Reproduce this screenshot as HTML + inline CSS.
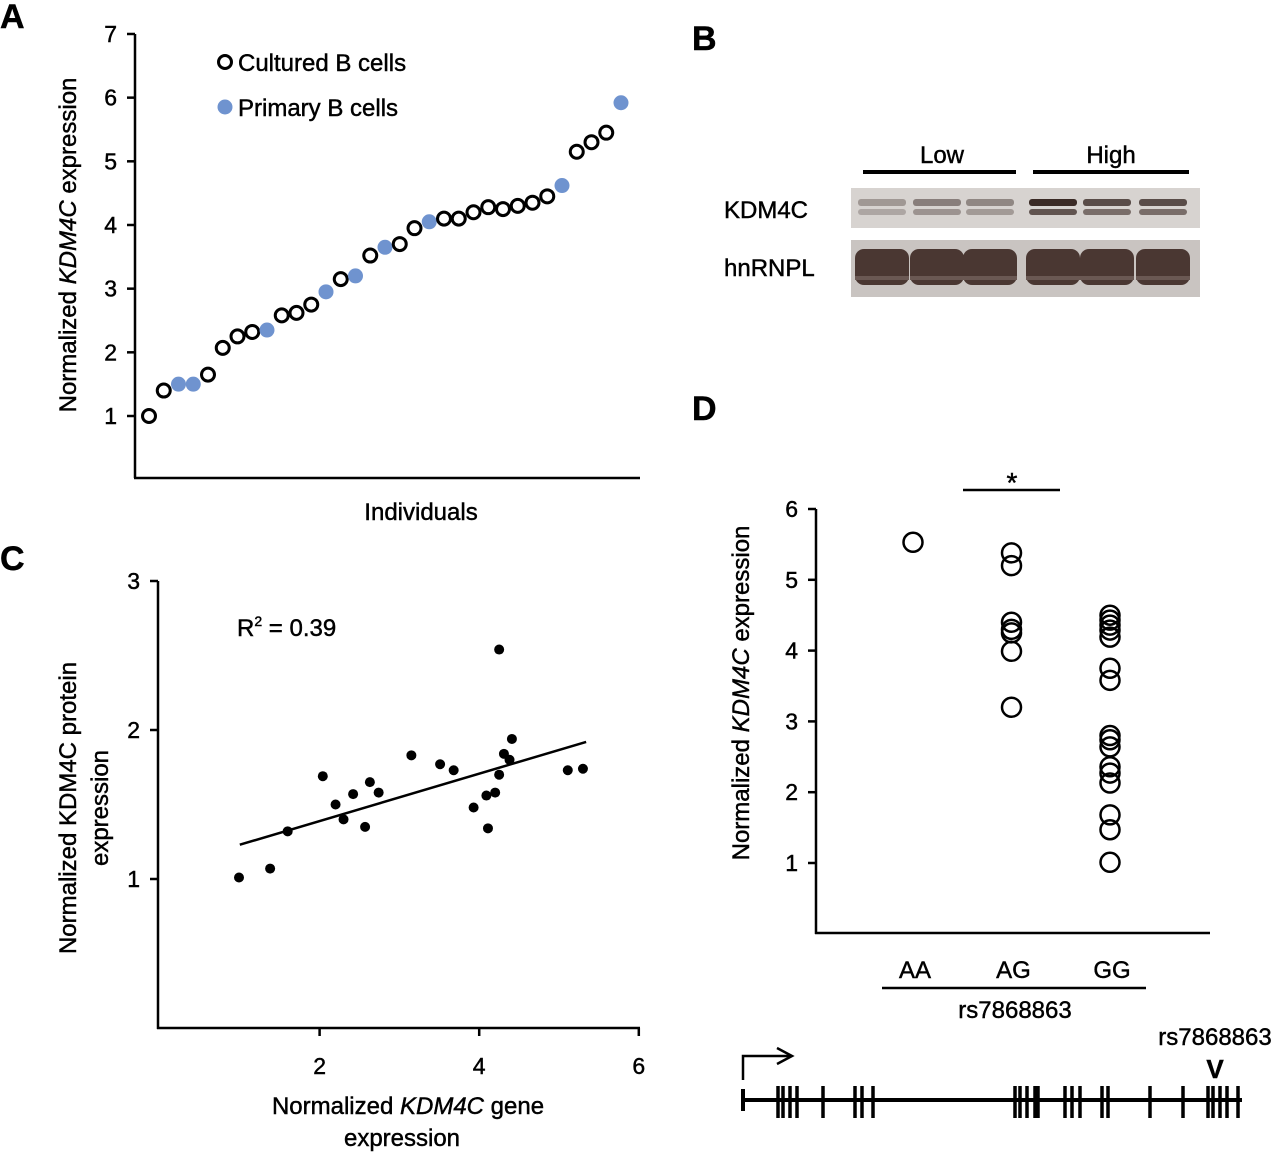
<!DOCTYPE html>
<html><head><meta charset="utf-8"><style>
body{margin:0;background:#fff;}
svg{display:block;font-family:"Liberation Sans",Arial,sans-serif;}
svg text{stroke:#000;stroke-width:0.45px;}
</style></head><body>
<svg id="fig" width="1280" height="1153" viewBox="0 0 1280 1153">
<g id="pa"></g>
<g id="pb"></g>
<g id="pc"></g>
<g id="pd"></g>
<g id="pe"></g>
</svg>
<script>
// Panel A data
const aValues=[1.0,1.4,1.5,1.5,1.65,2.07,2.25,2.32,2.35,2.58,2.62,2.75,2.95,3.15,3.2,3.52,3.65,3.7,3.95,4.05,4.1,4.1,4.2,4.28,4.25,4.3,4.35,4.45,4.62,5.15,5.3,5.45,5.92];
const aPrimary=[0,0,1,1,0,0,0,0,1,0,0,0,1,0,1,0,1,0,0,1,0,0,0,0,0,0,0,0,1,0,0,0,1];
const aTicks=[1,2,3,4,5,6,7];
// Panel C data
const cX=[0.99,1.38,1.6,2.04,2.2,2.3,2.42,2.57,2.63,2.74,3.15,3.51,3.68,3.93,4.09,4.11,4.2,4.25,4.25,4.31,4.38,4.41,5.11,5.3];
const cY=[1.01,1.07,1.32,1.69,1.5,1.4,1.57,1.35,1.65,1.58,1.83,1.77,1.73,1.48,1.56,1.34,1.58,2.54,1.70,1.84,1.8,1.94,1.73,1.74];
const cFitX=[1.0,5.34];
const cFitY=[1.23,1.92];
const cXTicks=[2,4,6];
const cYTicks=[1,2,3];
// Panel D data
const dCats=["AA","AG","GG"];
const dAA=[5.53];
const dAG=[5.38,5.2,4.4,4.3,4.25,3.99,3.2];
const dGG=[4.5,4.43,4.36,4.29,4.19,3.75,3.58,2.8,2.74,2.64,2.36,2.27,2.13,1.68,1.47,1.01];
const dTicks=[1,2,3,4,5,6];
// Blot
const blotLow=[0.35,0.5,0.45];
const blotHigh=[1.0,0.8,0.8];

const NS="http://www.w3.org/2000/svg";
function mk(parent,tag,attrs,name,text){
  const el=document.createElementNS(NS,tag);
  for(const k in attrs) el.setAttribute(k,attrs[k]);
  
  
  if(text!==undefined) el.textContent=text;
  parent.appendChild(el);return el;
}
const A=document.getElementById('pa'),B=document.getElementById('pb'),C=document.getElementById('pc'),D=document.getElementById('pd'),E=document.getElementById('pe');

// ---------- Panel A ----------
const ay=v=>416-(v-1)*63.67, ax=i=>149+i*14.75;
mk(A,'text',{x:0,y:28,'font-size':34,'font-weight':'bold'},'panel-letter-a','A');
mk(A,'line',{x1:135,y1:34,x2:135,y2:478,stroke:'#000','stroke-width':2.5},'y-axis');
mk(A,'line',{x1:134,y1:478,x2:640,y2:478,stroke:'#000','stroke-width':2.5},'x-axis');
aTicks.forEach(t=>{
  mk(A,'line',{x1:127,y1:ay(t),x2:135,y2:ay(t),stroke:'#000','stroke-width':2.5},'y-tick');
  mk(A,'text',{x:117,y:ay(t)+8,'font-size':23,'text-anchor':'end'},'y-tick-label',t);
});
const at=mk(A,'text',{transform:'translate(76,245) rotate(-90)','font-size':24,'text-anchor':'middle'},'y-axis-title');
at.innerHTML='Normalized <tspan font-style="italic">KDM4C</tspan> expression';
mk(A,'text',{x:421,y:520,'font-size':24,'text-anchor':'middle'},'x-axis-title','Individuals');
aValues.forEach((v,i)=>{
  if(aPrimary[i]) mk(A,'circle',{cx:ax(i),cy:ay(v),r:7.5,fill:'#6f93cf'},'primary-point');
  else mk(A,'circle',{cx:ax(i),cy:ay(v),r:6.5,fill:'#fff',stroke:'#000','stroke-width':3},'cultured-point');
});
mk(A,'circle',{cx:225,cy:62,r:6.5,fill:'#fff',stroke:'#000','stroke-width':3},'legend-marker-cultured');
mk(A,'text',{x:238,y:71,'font-size':24},'legend-label-cultured','Cultured B cells');
mk(A,'circle',{cx:225,cy:107,r:7.5,fill:'#6f93cf'},'legend-marker-primary');
mk(A,'text',{x:238,y:116,'font-size':24},'legend-label-primary','Primary B cells');

// ---------- Panel B ----------
mk(B,'text',{x:692,y:50,'font-size':34,'font-weight':'bold'},'panel-letter-b','B');
mk(B,'text',{x:942,y:163,'font-size':24,'text-anchor':'middle'},'low-label','Low');
mk(B,'text',{x:1111,y:163,'font-size':24,'text-anchor':'middle'},'high-label','High');
mk(B,'rect',{x:863,y:170,width:153,height:4},'low-bar');
mk(B,'rect',{x:1033,y:170,width:156,height:4},'high-bar');
mk(B,'text',{x:724,y:218,'font-size':24},'kdm4c-label','KDM4C');
mk(B,'text',{x:724,y:276,'font-size':24},'hnrnpl-label','hnRNPL');
mk(B,'rect',{x:851,y:188,width:349,height:40,fill:'#d7d3d0'},'kdm4c-blot');
mk(B,'rect',{x:851,y:240,width:349,height:57,fill:'#c9c4c1'},'hnrnpl-blot');
const lanes=[882,937,990,1053,1107,1163];
const inten=blotLow.concat(blotHigh);
lanes.forEach((cx,i)=>{
  const o=inten[i];
  mk(B,'rect',{x:cx-24,y:199,width:48,height:7,rx:3,fill:'#3a2a25','fill-opacity':o},'kdm4c-band');
  mk(B,'rect',{x:cx-24,y:209,width:48,height:6,rx:3,fill:'#3a2a25','fill-opacity':o*0.75},'kdm4c-band-lower');
  mk(B,'rect',{x:cx-27,y:249,width:54,height:36,rx:9,fill:'#4a3732'},'hnrnpl-band');
  mk(B,'rect',{x:cx-27,y:276,width:54,height:4,fill:'#6a5853'},'hnrnpl-gap');
});

// ---------- Panel C ----------
const cx=v=>160+v*79.8, cy=v=>1028-v*149;
mk(C,'text',{x:0,y:570,'font-size':34,'font-weight':'bold'},'panel-letter-c','C');
mk(C,'line',{x1:158,y1:581,x2:158,y2:1029,stroke:'#000','stroke-width':2.5},'y-axis');
mk(C,'line',{x1:157,y1:1028,x2:640,y2:1028,stroke:'#000','stroke-width':2.5},'x-axis');
cYTicks.forEach(t=>{
  mk(C,'line',{x1:150,y1:cy(t),x2:158,y2:cy(t),stroke:'#000','stroke-width':2.5},'y-tick');
  mk(C,'text',{x:140,y:cy(t)+8,'font-size':23,'text-anchor':'end'},'y-tick-label',t);
});
cXTicks.forEach(t=>{
  mk(C,'line',{x1:cx(t),y1:1028,x2:cx(t),y2:1036,stroke:'#000','stroke-width':2.5},'x-tick');
  mk(C,'text',{x:cx(t),y:1074,'font-size':23,'text-anchor':'middle'},'x-tick-label',t);
});
mk(C,'text',{transform:'translate(76,808) rotate(-90)','font-size':24,'text-anchor':'middle'},'y-axis-title-line1','Normalized KDM4C protein');
mk(C,'text',{transform:'translate(108,808) rotate(-90)','font-size':24,'text-anchor':'middle'},'y-axis-title-line2','expression');
const cxt=mk(C,'text',{x:408,y:1114,'font-size':24,'text-anchor':'middle'},'x-axis-title-line1');
cxt.innerHTML='Normalized <tspan font-style="italic">KDM4C</tspan> gene';
mk(C,'text',{x:402,y:1146,'font-size':24,'text-anchor':'middle'},'x-axis-title-line2','expression');
const r2=mk(C,'text',{x:237,y:636,'font-size':24},'r-squared-label');
r2.innerHTML='R<tspan font-size="14" dy="-10">2</tspan><tspan dy="10"> = 0.39</tspan>';
mk(C,'line',{x1:cx(cFitX[0]),y1:cy(cFitY[0]),x2:cx(cFitX[1]),y2:cy(cFitY[1]),stroke:'#000','stroke-width':2.5},'trend-line');
cX.forEach((v,i)=>mk(C,'circle',{cx:cx(v),cy:cy(cY[i]),r:5,fill:'#000'},'scatter-point'));

// ---------- Panel D ----------
const dy=v=>863-(v-1)*70.8, dx=i=>913+i*98.5;
mk(D,'text',{x:692,y:420,'font-size':34,'font-weight':'bold'},'panel-letter-d','D');
mk(D,'line',{x1:816,y1:509,x2:816,y2:934,stroke:'#000','stroke-width':2.5},'y-axis');
mk(D,'line',{x1:815,y1:933,x2:1210,y2:933,stroke:'#000','stroke-width':2.5},'x-axis');
dTicks.forEach(t=>{
  mk(D,'line',{x1:808,y1:dy(t),x2:816,y2:dy(t),stroke:'#000','stroke-width':2.5},'y-tick');
  mk(D,'text',{x:798,y:dy(t)+8,'font-size':23,'text-anchor':'end'},'y-tick-label',t);
});
const dt=mk(D,'text',{transform:'translate(749,693) rotate(-90)','font-size':24,'text-anchor':'middle'},'y-axis-title');
dt.innerHTML='Normalized <tspan font-style="italic">KDM4C</tspan> expression';
dCats.forEach((c,i)=>mk(D,'text',{x:dx(i)+2,y:978,'font-size':24,'text-anchor':'middle'},'x-category-label',c));
mk(D,'line',{x1:882,y1:988,x2:1146,y2:988,stroke:'#000','stroke-width':2.5},'genotype-bar');
mk(D,'text',{x:1015,y:1018,'font-size':24,'text-anchor':'middle'},'x-axis-title','rs7868863');
mk(D,'line',{x1:963,y1:490,x2:1060,y2:490,stroke:'#000','stroke-width':2.5},'significance-bar');
mk(D,'text',{x:1012,y:492,'font-size':28,'text-anchor':'middle'},'significance-star','*');
[dAA,dAG,dGG].forEach((arr,i)=>arr.forEach(v=>mk(D,'circle',{cx:dx(i),cy:dy(v),r:9.5,fill:'none',stroke:'#000','stroke-width':2.5},'genotype-point-'+dCats[i].toLowerCase())));

// ---------- Gene diagram ----------
const exons=[778,783,790,797,823,855,862,873,1015,1020,1027,1035,1038,1065,1072,1080,1102,1108,1150,1183,1208,1213,1220,1227,1238];
mk(E,'line',{x1:743,y1:1100,x2:1242,y2:1100,stroke:'#000','stroke-width':4},'gene-line');
mk(E,'line',{x1:743,y1:1089,x2:743,y2:1111,stroke:'#000','stroke-width':4},'gene-start');
exons.forEach(x=>mk(E,'line',{x1:x,y1:1086,x2:x,y2:1118,stroke:'#000','stroke-width':3.5},'exon'));
mk(E,'polyline',{points:'743,1080 743,1056 790,1056',fill:'none',stroke:'#000','stroke-width':2.5},'tss-arrow');
mk(E,'polyline',{points:'777,1048 792,1056 777,1064',fill:'none',stroke:'#000','stroke-width':2.5},'tss-arrowhead');
mk(E,'text',{x:1215,y:1078,'font-size':26,'font-weight':'bold','text-anchor':'middle'},'snp-marker','V');
mk(E,'text',{x:1215,y:1045,'font-size':24,'text-anchor':'middle'},'snp-label','rs7868863');
</script>
</body></html>
